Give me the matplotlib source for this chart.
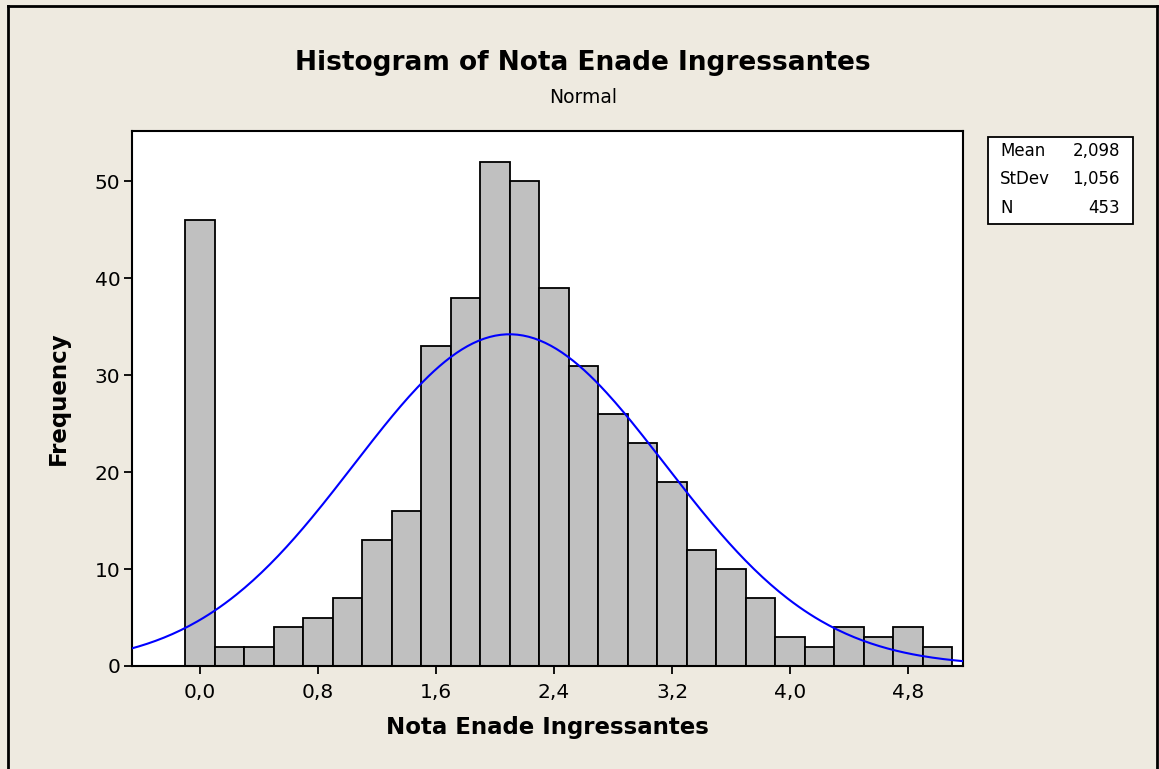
import numpy as np
import matplotlib.pyplot as plt
from matplotlib.lines import Line2D

# dados do histograma (centros das classes e frequências)
bin_centers = np.arange(26) * 0.2
counts = [46, 2, 2, 4, 5, 7, 13, 16, 33, 38, 52, 50, 39, 31, 26, 23, 19, 12, 10, 7, 3, 2, 4, 3, 4, 2]
bin_width = 0.2
mean = 2.098
stdev = 1.056
n = 453
xticks = [0.0, 0.8, 1.6, 2.4, 3.2, 4.0, 4.8]
yticks = [0, 10, 20, 30, 40, 50]

bg = '#EEEAE0'
plt.rcParams['font.family'] = ['DejaVu Sans']

fig = plt.figure(figsize=(11.59, 7.69), dpi=100, facecolor=bg)
ax = fig.add_axes([0.1135, 0.134, 0.7171, 0.6956])

ax.bar(bin_centers, counts, width=bin_width, color='#C0C0C0',
       edgecolor='black', linewidth=1.3, zorder=2)

# curva normal ajustada
x_fit = np.linspace(-0.47, 5.17, 300)
y_fit = n * bin_width / (stdev * np.sqrt(2 * np.pi)) * np.exp(-0.5 * ((x_fit - mean) / stdev) ** 2)
ax.plot(x_fit, y_fit, color='#0000FF', linewidth=1.5, zorder=3)

ax.set_xlim(-0.464, 5.169)
ax.set_ylim(0, 55.2)
ax.set_xticks(xticks)
ax.set_xticklabels([f'{t:.1f}'.replace('.', ',') for t in xticks])
ax.set_yticks(yticks)
ax.tick_params(axis='both', labelsize=14.5, length=6, width=1.3, color='black')
ax.tick_params(axis='x', pad=6)
ax.tick_params(axis='y', pad=2)
for s in ax.spines.values():
    s.set_linewidth(1.5)

ax.set_xlabel('Nota Enade Ingressantes', fontsize=16.5, fontweight='bold', labelpad=10)
ax.set_ylabel('Frequency', fontsize=16.5, fontweight='bold', labelpad=18)

fig.text(0.503, 0.918, 'Histogram of Nota Enade Ingressantes', ha='center', va='center',
         fontsize=19, fontweight='bold')
fig.text(0.503, 0.873, 'Normal', ha='center', va='center', fontsize=13.5)

# caixa de estatísticas
bx0, by0, bw, bh = 988 / 1159, 1 - 224 / 769, 145 / 1159, 87 / 769
fig.patches.append(plt.Rectangle((bx0, by0), bw, bh, transform=fig.transFigure,
                                 facecolor='white', edgecolor='black', linewidth=1.3))
rows = [('Mean', '2,098'), ('StDev', '1,056'), ('N', str(n))]
for i, (lab, val) in enumerate(rows):
    yy = 1 - (151 + i * 28.5) / 769
    fig.text(bx0 + 12 / 1159, yy, lab, ha='left', va='center', fontsize=12)
    fig.text(1120 / 1159, yy, val, ha='right', va='center', fontsize=12)

# moldura externa
fx0, fx1, fy1 = 8 / 1159, 1157 / 1159, 1 - 6 / 769
for xs, ys in [([fx0, fx0], [0, fy1]), ([fx0, fx1], [fy1, fy1]), ([fx1, fx1], [fy1, 0])]:
    fig.lines.append(Line2D(xs, ys, transform=fig.transFigure, color='black', linewidth=2))

fig.savefig('out.png', dpi=100, facecolor=bg)
